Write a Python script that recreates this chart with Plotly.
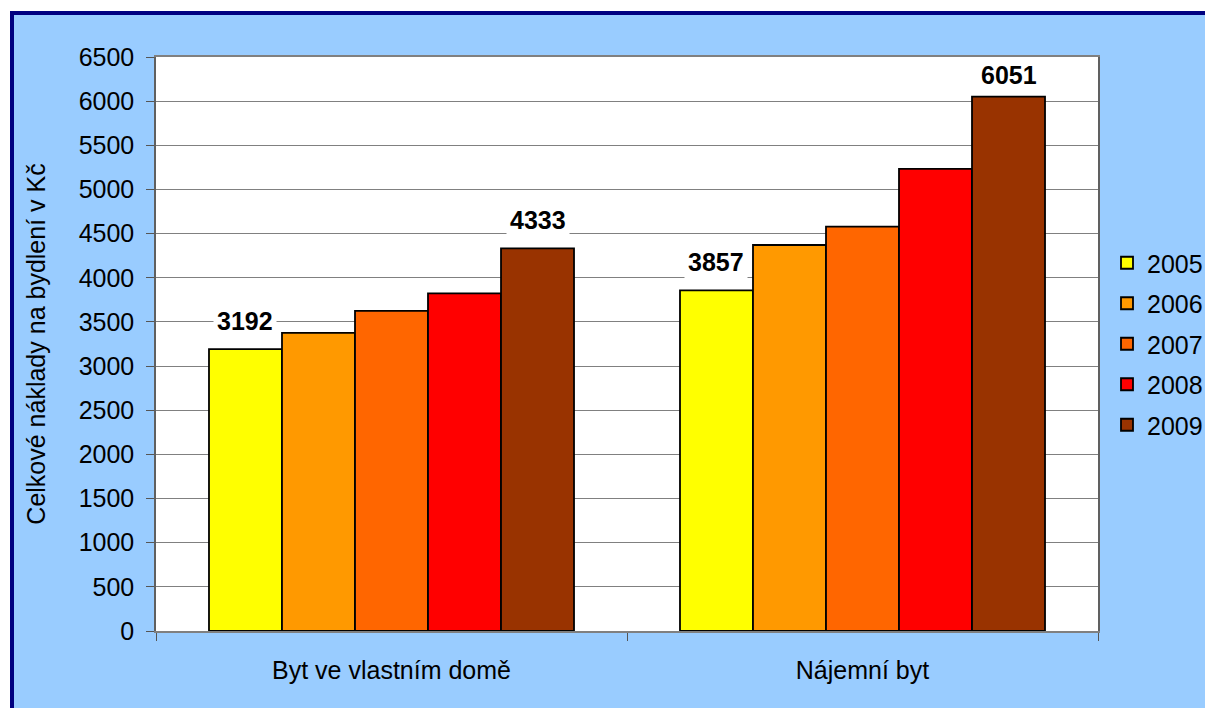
import plotly.graph_objects as go

categories = ["Byt ve vlastním domě", "Nájemní byt"]
years = ["2005", "2006", "2007", "2008", "2009"]
values = {
    "2005": [3192, 3857],
    "2006": [3377, 4371],
    "2007": [3624, 4579],
    "2008": [3824, 5232],
    "2009": [4333, 6051],
}
colors = ["#FFFF00", "#FF9900", "#FF6600", "#FF0000", "#993300"]
labeled_years = ["2005", "2009"]
y_title = "Celkové náklady na bydlení v Kč"

FONT = "Liberation Sans, Arial, sans-serif"
FS = 25
bargap = 0.225
bar_w = (1 - bargap) / len(years)
y_max = 6500

# page body has an 8px margin: screen = figure + 8
OFF = 8
W, H = 1213, 708
ml, mr, mt, mb = 148, 123, 49, 85
pw, ph = W - ml - mr, H - mt - mb


def px_x(screen):
    return (screen - OFF - ml) / pw


def px_y(screen):
    return (H - mb - (screen - OFF)) / ph


fig = go.Figure()
for i, (yr, col) in enumerate(zip(years, colors)):
    fig.add_trace(go.Bar(
        name=yr, x=categories, y=values[yr],
        marker=dict(color=col, line=dict(color="black", width=1.8)),
        legendgroup=yr,
    ))

units_per_px = y_max / ph
label_h = 36 * units_per_px
gap = 10
annotations = []
for i, yr in enumerate(years):
    if yr not in labeled_years:
        continue
    for ci, v in enumerate(values[yr]):
        a = dict(
            x=ci + (i - (len(years) - 1) / 2) * bar_w,
            xref="x", yref="y", text="<b>%d</b>" % v,
            showarrow=False,
            font=dict(family=FONT, size=FS, color="black"),
            bgcolor="white", borderpad=3,
        )
        if v + gap * units_per_px + label_h > y_max:
            a.update(y=y_max, yanchor="top", yshift=0)
        else:
            a.update(y=v, yanchor="bottom", yshift=gap)
        annotations.append(a)

shapes = [
    dict(type="rect", xref="paper", yref="paper",
         x0=px_x(12), x1=px_x(1225), y0=px_y(720), y1=px_y(13),
         line=dict(color="#000080", width=4), fillcolor="#99CCFF", layer="below"),
    dict(type="rect", xref="paper", yref="paper", x0=0, x1=1, y0=0, y1=1,
         line=dict(width=0), fillcolor="white", layer="below"),
]

fig.update_layout(
    width=W, height=H,
    margin=dict(l=ml, r=mr, t=mt, b=mb, autoexpand=False),
    paper_bgcolor="white", plot_bgcolor="white",
    barmode="group", bargap=bargap, bargroupgap=0,
    font=dict(family=FONT, size=FS, color="black"),
    showlegend=True,
    legend=dict(x=px_x(1107), y=0.5, xanchor="left", yanchor="middle",
                font=dict(family=FONT, size=FS), tracegroupgap=5,
                bgcolor="rgba(0,0,0,0)"),
    annotations=annotations,
    shapes=shapes,
)
fig.update_xaxes(
    type="category", tickson="boundaries", ticks="outside", ticklen=8,
    tickcolor="#555555", showline=True, linecolor="#808080", linewidth=1.5,
    mirror=True, showgrid=False, ticklabelstandoff=16, automargin=False,
    tickfont=dict(family=FONT, size=FS),
)
fig.update_yaxes(
    range=[0, y_max], dtick=500, ticks="outside", ticklen=8,
    tickcolor="#555555", showline=True, linecolor="#606060", linewidth=1.5,
    mirror=True, showgrid=True, gridcolor="#808080", gridwidth=1,
    zeroline=False, ticklabelstandoff=7, automargin=False,
    tickfont=dict(family=FONT, size=FS),
    title=dict(text=y_title, font=dict(family=FONT, size=FS), standoff=26),
)

fig.write_html("out.html")
